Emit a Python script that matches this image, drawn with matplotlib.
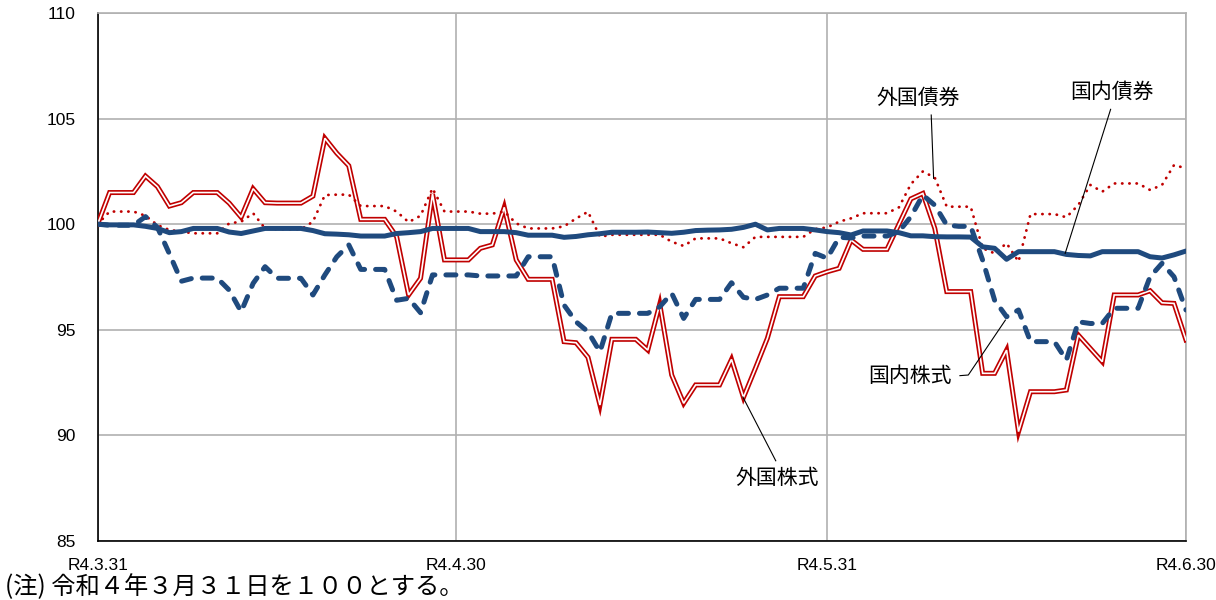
import numpy as np
import pandas as pd
import matplotlib
matplotlib.use('Agg')
from matplotlib import pyplot as plt

# daily values (weekends carried over), 2022-03-31 .. 2022-06-30
days = pd.date_range('2022-03-31', '2022-06-30', freq='D')

gaikoku_kabu = [100.0, 101.5, 101.5, 101.5, 102.28, 101.78, 100.86, 101.02, 101.5, 101.5,
                101.5, 101.0, 100.33, 101.68, 101.02, 101.0, 101.0, 101.0, 101.33, 104.07,
                103.36, 102.77, 100.23, 100.23, 100.23, 99.41, 96.65, 97.44, 101.43, 98.31,
                98.31, 98.31, 98.86, 99.02, 100.8, 98.31, 97.39, 97.39, 97.39, 94.44,
                94.39, 93.70, 91.44, 94.55, 94.55, 94.55, 94.04, 96.22, 92.86, 91.52,
                92.39, 92.39, 92.39, 93.6, 91.80, 93.18, 94.6, 96.57, 96.57, 96.57,
                97.55, 97.75, 97.91, 99.25, 98.81, 98.81, 98.81, 100.0, 101.2, 101.46,
                99.8, 96.81, 96.81, 96.81, 92.94, 92.94, 94.04, 90.18, 92.07, 92.07,
                92.07, 92.15, 94.75, 94.12, 93.49, 96.65, 96.65, 96.65, 96.85, 96.28,
                96.25, 94.52]

gaikoku_sai = [100.0, 100.6, 100.6, 100.6, 100.4, 99.96, 99.73, 99.65, 99.57, 99.57,
               99.57, 100.04, 100.12, 100.52, 99.8, 99.76, 99.76, 99.76, 100.12, 101.38,
               101.4, 101.4, 100.86, 100.86, 100.86, 100.6, 100.1, 100.4, 101.7, 100.6,
               100.6, 100.6, 100.5, 100.5, 100.6, 100.04, 99.8, 99.8, 99.8, 99.9,
               100.27, 100.59, 99.41, 99.5, 99.5, 99.5, 99.5, 99.5, 99.17, 98.97,
               99.33, 99.33, 99.33, 99.1, 98.91, 99.4, 99.4, 99.4, 99.4, 99.4,
               99.77, 99.85, 100.12, 100.28, 100.52, 100.52, 100.52, 100.8, 101.9, 102.5,
               102.2, 100.83, 100.83, 100.83, 98.86, 98.62, 99.1, 98.23, 100.48, 100.48,
               100.48, 100.33, 100.91, 101.86, 101.54, 101.93, 101.93, 101.93, 101.62, 101.86,
               102.8, 102.65]

kokunai_sai = [100.0, 99.97, 99.97, 99.97, 99.9, 99.8, 99.6, 99.65, 99.8, 99.8,
               99.8, 99.63, 99.56, 99.68, 99.8, 99.8, 99.8, 99.8, 99.7, 99.55,
               99.53, 99.5, 99.44, 99.44, 99.44, 99.56, 99.6, 99.65, 99.8, 99.8,
               99.8, 99.8, 99.65, 99.65, 99.65, 99.6, 99.48, 99.48, 99.48, 99.38,
               99.42, 99.5, 99.55, 99.62, 99.62, 99.62, 99.63, 99.6, 99.57, 99.62,
               99.7, 99.72, 99.73, 99.76, 99.85, 100.0, 99.73, 99.8, 99.8, 99.8,
               99.73, 99.65, 99.6, 99.49, 99.68, 99.68, 99.68, 99.6, 99.45, 99.45,
               99.41, 99.4, 99.4, 99.39, 98.93, 98.86, 98.34, 98.7, 98.7, 98.7,
               98.7, 98.57, 98.52, 98.5, 98.7, 98.7, 98.7, 98.7, 98.46, 98.4,
               98.55, 98.73]

kokunai_kabu = [100.0, 99.95, 99.95, 99.95, 100.36, 99.85, 98.6, 97.3, 97.45, 97.45,
                97.45, 96.88, 95.86, 97.2, 97.99, 97.44, 97.44, 97.44, 96.65, 97.6,
                98.46, 99.02, 97.86, 97.86, 97.86, 96.4, 96.49, 95.81, 97.6, 97.6,
                97.6, 97.6, 97.55, 97.55, 97.55, 97.55, 98.46, 98.46, 98.46, 96.17,
                95.38, 94.91, 93.96, 95.78, 95.78, 95.78, 95.78, 96.09, 96.73, 95.54,
                96.44, 96.44, 96.44, 97.23, 96.54, 96.44, 96.65, 96.97, 96.97, 96.97,
                98.62, 98.39, 99.38, 99.35, 99.44, 99.44, 99.44, 99.65, 100.36, 101.38,
                100.9, 99.96, 99.9, 99.9, 98.3, 96.4, 95.62, 95.94, 94.44, 94.44,
                94.44, 93.57, 95.38, 95.3, 95.3, 96.02, 96.02, 96.02, 97.51, 98.15,
                97.51, 95.94]

tick_dates = ['2022-03-31', '2022-04-30', '2022-05-31', '2022-06-30']
tick_labels = ['R4.3.31', 'R4.4.30', 'R4.5.31', 'R4.6.30']

red = '#C00000'
blue = '#1F4A7E'
jp = ['Noto Sans CJK JP', 'DejaVu Sans']

fig = plt.figure(figsize=(12.16, 6.0), dpi=100)
ax = fig.add_axes([0.0803, 0.0983, 0.8950, 0.8800])

# 外国株式 : double line (red with white core)
ax.plot(days, gaikoku_kabu, color=red, lw=3.6, solid_joinstyle='miter', zorder=3)
ax.plot(days, gaikoku_kabu, color='white', lw=1.2, solid_joinstyle='miter', zorder=4)
# 外国債券 : dotted red
ax.plot(days, gaikoku_sai, color=red, lw=2.0, linestyle=(0, (0.1, 2.5)),
        dash_capstyle='round', zorder=5)
# 国内債券 : thick solid blue
ax.plot(days, kokunai_sai, color=blue, lw=3.6, solid_capstyle='round', zorder=6)
# 国内株式 : dashed blue
ax.plot(days, kokunai_kabu, color=blue, lw=3.6, linestyle=(0, (2.0, 2.2)),
        dash_capstyle='round', zorder=5)

ax.set_xlim(days[0], days[-1])
ax.set_ylim(85, 110)
ax.set_yticks([85, 90, 95, 100, 105, 110])
ax.set_xticks(pd.to_datetime(tick_dates))
ax.set_xticklabels(tick_labels)
ax.tick_params(axis='both', length=0, labelsize=12.5)
ax.tick_params(axis='y', pad=16)
ax.tick_params(axis='x', pad=12)
for lab in ax.get_xticklabels() + ax.get_yticklabels():
    lab.set_fontfamily('Liberation Sans')

ax.grid(True, color='#B0B0B0', lw=1.2)
ax.set_axisbelow(True)
ax.spines['left'].set_color('black')
ax.spines['bottom'].set_color('black')
ax.spines['top'].set_color('#B0B0B0')
ax.spines['right'].set_color('#B0B0B0')
for s in ax.spines.values():
    s.set_linewidth(1.2)

def d(n):
    return days[0] + pd.Timedelta(days=n)

lead = dict(color='black', lw=0.8, zorder=7)
ax.text(d(68.6), 105.98, '外国債券', family=jp, fontsize=15, ha='center', va='center')
ax.plot([d(69.7), d(69.9)], [105.17, 102.17], **lead)
ax.text(d(84.8), 106.28, '国内債券', family=jp, fontsize=15, ha='center', va='center')
ax.plot([d(84.7), d(80.9)], [105.44, 98.62], **lead)
ax.text(d(67.9), 92.81, '国内株式', family=jp, fontsize=15, ha='center', va='center')
ax.plot([d(72.1), d(72.8), d(75.9)], [92.83, 92.86, 95.46], **lead)
ax.text(d(56.8), 88.0, '外国株式', family=jp, fontsize=15, ha='center', va='center')
ax.plot([d(53.95), d(56.7)], [91.82, 88.8], **lead)

fig.text(0.004, 0.022, '(注) 令和４年３月３１日を１００とする。', family=jp,
         fontsize=17.5, ha='left', va='center')

fig.savefig('out.png', dpi=100)
